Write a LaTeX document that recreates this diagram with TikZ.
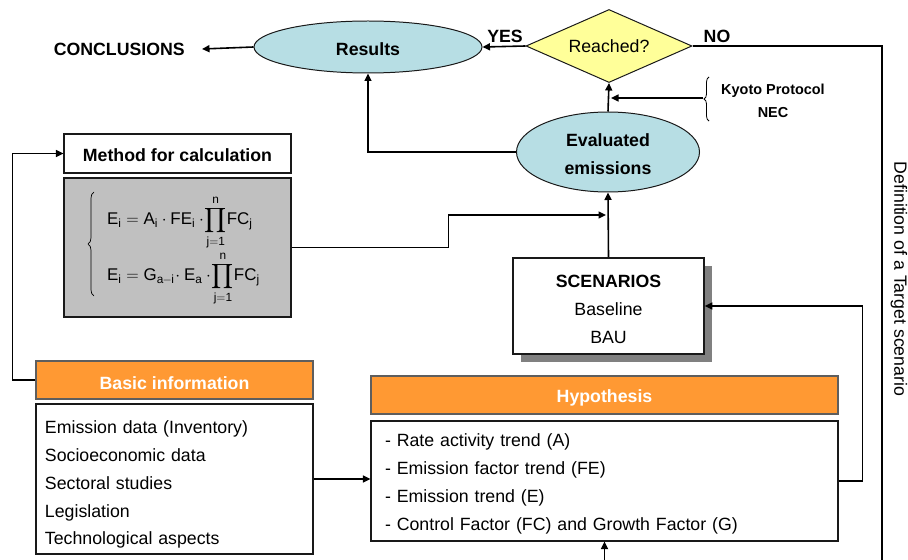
\documentclass[tikz,border=0pt]{standalone}
\usepackage{exscale}
\usepackage{fontspec}
\setmainfont{Liberation Sans}
\usetikzlibrary{shapes.geometric,arrows.meta,shadows,decorations.pathreplacing}
\definecolor{ellfill}{RGB}{183,222,228}
\definecolor{orangebar}{RGB}{255,153,51}
\definecolor{diafill}{RGB}{255,255,153}
\definecolor{formgray}{RGB}{192,192,192}
\definecolor{shadowgray}{RGB}{128,128,128}
\definecolor{edge}{RGB}{25,25,25}
% invisible strut giving the first text line extra height (lowers the block in its node)
\newcommand\upr[1]{\rule{0pt}{#1}}

\begin{document}
\begin{tikzpicture}[x=1bp,y=-1bp,
  base/.style={font=\fontsize{17.8}{28}\selectfont, inner sep=0pt, text=black},
  bold/.style={base, font=\fontsize{17.8}{28}\selectfont\bfseries},
  eqn/.style={base, anchor=base west, font=\fontsize{17}{20}\selectfont},
  ell/.style={bold, shape=ellipse, draw=edge, line width=1pt, fill=ellfill, align=center},
  dia/.style={base, shape=diamond, draw=edge, line width=1pt, fill=diafill, aspect=2.3},
  framebox/.style={base, draw=edge, line width=1.1pt, fill=white},
  barbox/.style={bold, draw=edge!70, line width=1.1pt, fill=orangebar, text=white},
  line/.style={line width=1.6pt, draw=black},
  arr/.style={line, -{Triangle[length=7.5bp,width=7bp]}}
]
% canvas
\path[fill=white, use as bounding box] (0,0) rectangle (908,560);

% top row: results, decision, conclusions
\node[ell, minimum width=228bp, minimum height=52bp] (res) at (368,47) {\upr{16.8bp}Results};
\node[dia, minimum width=166bp, minimum height=73bp] (reach) at (609,46) {Reached?};
\node[bold, anchor=east, inner xsep=17bp] (concl) at (202,49) {CONCLUSIONS};
\node[bold] (yes) at (505,36) {YES};
\node[bold] (no) at (717,36) {NO};

% evaluated emissions
\node[ell, minimum width=183bp, minimum height=80bp] (ee) at (608,152) {\upr{16.8bp}Evaluated\\emissions};

% targets
\node[base, font=\fontsize{14.5}{23}\selectfont\bfseries, align=center] (kyoto) at (773,101) {Kyoto Protocol\\NEC};
\draw[line width=0.8pt, decorate, decoration={brace, amplitude=5bp}] (709,121) -- (709,77);
\coordinate (kbrace) at (703,98);
\coordinate (kjoin) at (611,98);

% calculation method
\node[framebox, bold, minimum width=227bp, minimum height=39bp] (meth) at (177.5,153.5) {\upr{16.8bp}Method for calculation};
\node[framebox, fill=formgray, minimum width=227bp, minimum height=139bp] (formb) at (177.5,247.5) {};
\draw[line width=0.7pt, decorate, decoration={brace, amplitude=6bp}] (94,296) -- (94,192);
\node[eqn] (eqa) at (107,225)
  {$\displaystyle\mathrm{E_i = A_i\cdot FE_i\cdot\! \prod_{j=1}^{n}\! FC_j}$};
\node[eqn] (eqb) at (107,281)
  {$\displaystyle\mathrm{E_i = G_{a\mkern-1mu{-}\mkern-1mu i}\!\cdot E_a\cdot\! \prod_{j=1}^{n}\! FC_j}$};

% scenarios
\node[framebox, line width=1.6pt, minimum width=191bp, minimum height=96bp, align=center,
      drop shadow={shadow xshift=8bp, shadow yshift=-8bp, fill=shadowgray, opacity=1}]
      (scen) at (608.5,306) {\upr{18.8bp}\textbf{SCENARIOS}\\Baseline\\BAU};

% basic information
\node[barbox, minimum width=277bp, minimum height=38bp] (basich) at (174.5,380) {\upr{19bp}Basic information};
\node[framebox, minimum width=277bp, minimum height=150bp, text width=259bp, align=left] (basicb) at (174.5,479)
  {\upr{24bp}Emission data (Inventory)\\Socioeconomic data\\Sectoral studies\\Legislation\\Technological aspects};

% hypothesis
\node[barbox, minimum width=467bp, minimum height=38bp] (hyph) at (604.5,395) {\upr{18.8bp}Hypothesis};
\node[framebox, minimum width=467bp, minimum height=120bp, text width=439bp, align=left] (hypb) at (604.5,481)
  {\upr{19bp}- Rate activity trend (A)\\- Emission factor trend (FE)\\- Emission trend (E)\\- Control Factor (FC) and Growth Factor (G)};

% side label
\node[base, rotate=-90] (target) at (899,279) {Definition of a Target scenario};

% connectors
\coordinate (noturn) at (882,46);
\coordinate (noend) at (882,560);
\coordinate (ejoin) at (606,215);
\coordinate (hypin) at (604.5,560);

\draw[arr] (res.west) -- (concl.east);
\draw[arr] (reach.west) -- (res.east);
\draw[line] (reach.east) -- (noturn) -- (noend);
\draw[arr] (ee.north) -- (reach.south);
\draw[arr] (kbrace) -- (kjoin);
\draw[arr] (ee.west) -| (res.south);
\draw[arr] (scen.north) -- (ee.south);
\draw[arr] (formb.east) -- ++(157,0) |- (ejoin);
\draw[arr] (hypb.east) -- ++(24,0) |- (scen.east);
\draw[arr] (basicb.east) -- (basicb.east -| hypb.west);
\draw[arr] (basich.west) -- ++(-23,0) |- (meth.west);
\draw[arr] (hypin) -- (hypb.south);
\end{tikzpicture}
\end{document}
